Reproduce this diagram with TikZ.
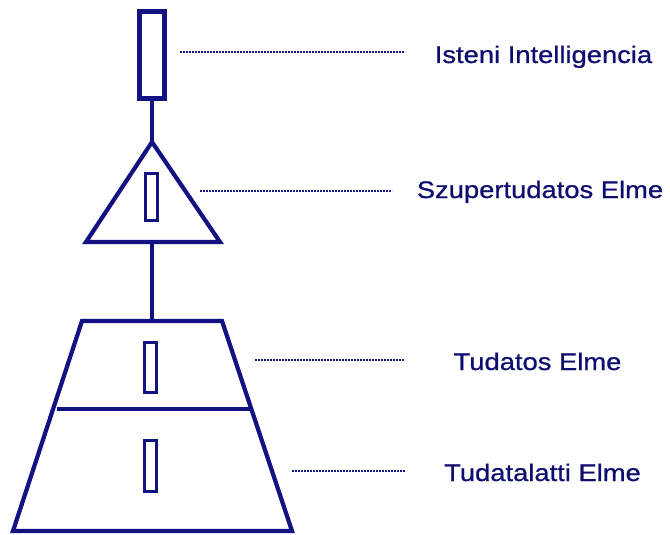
\documentclass[tikz,border=0pt]{standalone}
\usepackage{fontspec}
\setmainfont[FakeStretch=1.14,FakeBold=0.8]{Liberation Sans}
\definecolor{navyline}{RGB}{18,18,130}
\definecolor{navytext}{RGB}{14,14,112}
\begin{document}
\begin{tikzpicture}[x=1pt,y=-1pt,
  outline/.style={draw=navyline,line width=4.2pt,line join=miter},
  smallbox/.style={draw=navyline,line width=3pt,rectangle,inner sep=0pt,minimum width=12pt,minimum height=47pt},
  stem/.style={draw=navyline,line width=4.2pt},
  leader/.style={draw=navyline,line width=1.8pt,dash pattern=on 1.8pt off 1.2pt},
  lbl/.style={text=navytext,font=\fontsize{24pt}{28pt}\selectfont,anchor=base,inner sep=0pt}]
\useasboundingbox (0,0) rectangle (670,535);
% top rectangle
\node[draw=navyline,line width=4.2pt,rectangle,inner sep=0pt,minimum width=25pt,minimum height=87pt] (top) at (152,55) {};
% triangle
\coordinate (apex) at (152,142);
\coordinate (tl) at (86,242);
\coordinate (tr) at (220,242);
\coordinate (tb) at (152,242);
\draw[outline] (apex) -- (tl) -- (tr) -- cycle;
\node[smallbox] (s1) at (151,197) {};
% trapezoid
\coordinate (ztl) at (82,321);
\coordinate (ztr) at (222,321);
\coordinate (zbr) at (292,531);
\coordinate (zbl) at (13,531);
\coordinate (zt) at (152,321);
\coordinate (dl) at (57,409);
\coordinate (dr) at (250,409);
\draw[outline] (ztl) -- (ztr) -- (zbr) -- (zbl) -- cycle;
\draw[navyline,line width=3.5pt] (dl) -- (dr);
\node[smallbox,minimum height=50pt] (s2) at (150.5,367) {};
\node[smallbox,minimum height=51pt] (s3) at (150.5,465.5) {};
% stems
\draw[stem] (top.south) -- (apex);
\draw[stem] (tb) -- (zt);
% labels
\node[lbl] (l1) at (543.5,63) {Isteni Intelligencia};
\node[lbl] (l2) at (540,198) {Szupertudatos Elme};
\node[lbl] (l3) at (537.5,370) {Tudatos Elme};
\node[lbl] (l4) at (542.5,481) {Tudatalatti Elme};
% leaders
\coordinate (a1) at (180,52);  \coordinate (b1) at (405,52);
\coordinate (a2) at (200,191); \coordinate (b2) at (392,191);
\coordinate (a3) at (255,360); \coordinate (b3) at (405,360);
\coordinate (a4) at (292,471); \coordinate (b4) at (405,471);
\draw[leader] (a1) -- (b1);
\draw[leader] (a2) -- (b2);
\draw[leader] (a3) -- (b3);
\draw[leader] (a4) -- (b4);
\end{tikzpicture}
\end{document}
